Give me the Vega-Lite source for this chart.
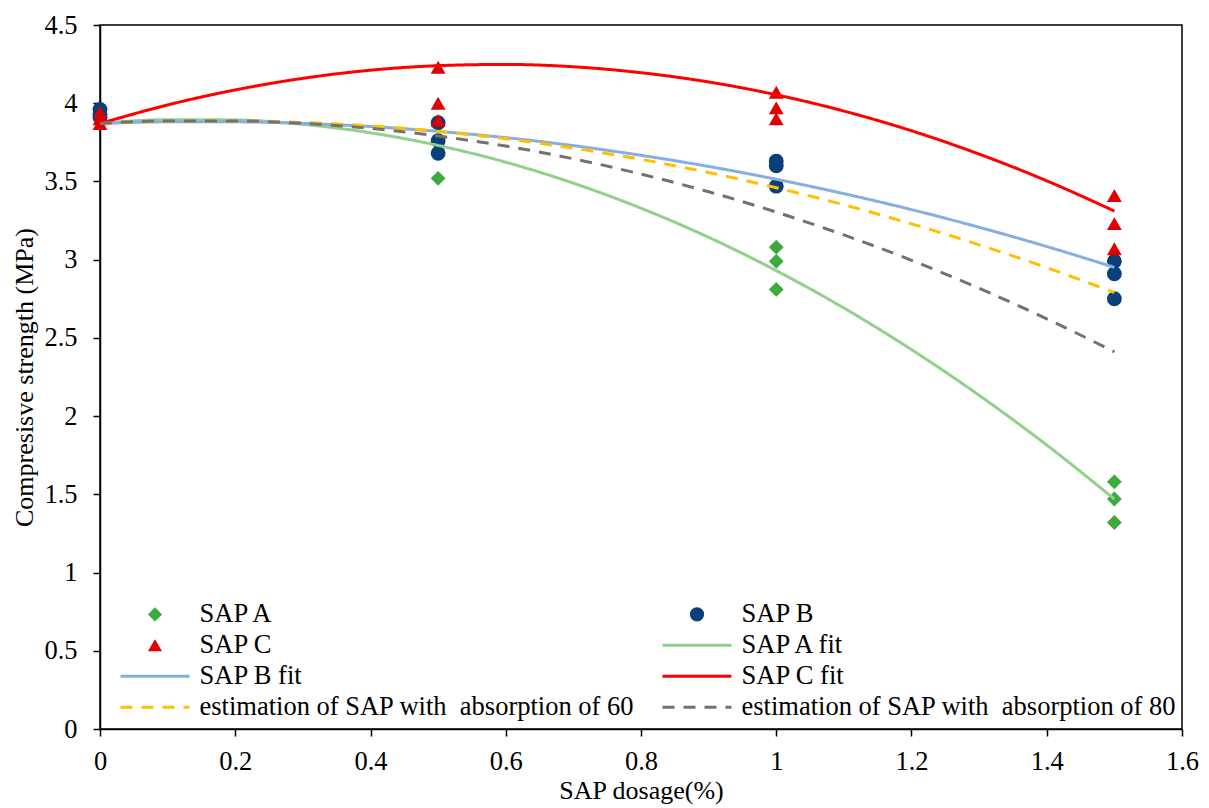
{
  "$schema": "https://vega.github.io/schema/vega-lite/v6.json",
  "width": 1082,
  "height": 704,
  "autosize": {"type": "none"},
  "padding": {"left": 100, "top": 25, "right": 27, "bottom": 79},
  "background": "white",
  "config": {
    "view": {"stroke": "black", "strokeWidth": 1.5},
    "font": "Liberation Serif",
    "axis": {
      "labelFont": "Liberation Serif", "labelFontSize": 26.5, "labelColor": "black",
      "titleFont": "Liberation Serif", "titleFontSize": 26, "titleFontWeight": "normal", "titleColor": "black",
      "domainColor": "black", "domainWidth": 1.5, "tickColor": "black", "tickWidth": 1.5, "tickSize": 7, "grid": false
    }
  },
  "datasets": {
    "pts": [
      {"x": 0, "y": 3.90, "series": "SAP A"},
      {"x": 0, "y": 3.92, "series": "SAP A"},
      {"x": 0.5, "y": 3.52, "series": "SAP A"},
      {"x": 1, "y": 3.08, "series": "SAP A"},
      {"x": 1, "y": 2.99, "series": "SAP A"},
      {"x": 1, "y": 2.81, "series": "SAP A"},
      {"x": 1.5, "y": 1.58, "series": "SAP A"},
      {"x": 1.5, "y": 1.47, "series": "SAP A"},
      {"x": 1.5, "y": 1.32, "series": "SAP A"},
      {"x": 0, "y": 3.96, "series": "SAP B"},
      {"x": 0, "y": 3.93, "series": "SAP B"},
      {"x": 0, "y": 3.91, "series": "SAP B"},
      {"x": 0.5, "y": 3.875, "series": "SAP B"},
      {"x": 0.5, "y": 3.76, "series": "SAP B"},
      {"x": 0.5, "y": 3.68, "series": "SAP B"},
      {"x": 1, "y": 3.63, "series": "SAP B"},
      {"x": 1, "y": 3.60, "series": "SAP B"},
      {"x": 1, "y": 3.47, "series": "SAP B"},
      {"x": 1.5, "y": 2.99, "series": "SAP B"},
      {"x": 1.5, "y": 2.91, "series": "SAP B"},
      {"x": 1.5, "y": 2.75, "series": "SAP B"},
      {"x": 0, "y": 3.94, "series": "SAP C"},
      {"x": 0, "y": 3.90, "series": "SAP C"},
      {"x": 0, "y": 3.87, "series": "SAP C"},
      {"x": 0.5, "y": 4.23, "series": "SAP C"},
      {"x": 0.5, "y": 4.00, "series": "SAP C"},
      {"x": 0.5, "y": 3.89, "series": "SAP C"},
      {"x": 1, "y": 4.07, "series": "SAP C"},
      {"x": 1, "y": 3.97, "series": "SAP C"},
      {"x": 1, "y": 3.90, "series": "SAP C"},
      {"x": 1.5, "y": 3.41, "series": "SAP C"},
      {"x": 1.5, "y": 3.23, "series": "SAP C"},
      {"x": 1.5, "y": 3.07, "series": "SAP C"}
    ],
    "fits": [
      {"x": 0, "y": 3.870, "series": "SAP A fit"},
      {"x": 0.1, "y": 3.895, "series": "SAP A fit"},
      {"x": 0.2, "y": 3.893, "series": "SAP A fit"},
      {"x": 0.3, "y": 3.865, "series": "SAP A fit"},
      {"x": 0.4, "y": 3.811, "series": "SAP A fit"},
      {"x": 0.5, "y": 3.730, "series": "SAP A fit"},
      {"x": 0.6, "y": 3.623, "series": "SAP A fit"},
      {"x": 0.7, "y": 3.489, "series": "SAP A fit"},
      {"x": 0.8, "y": 3.329, "series": "SAP A fit"},
      {"x": 0.9, "y": 3.143, "series": "SAP A fit"},
      {"x": 1.0, "y": 2.930, "series": "SAP A fit"},
      {"x": 1.1, "y": 2.691, "series": "SAP A fit"},
      {"x": 1.2, "y": 2.425, "series": "SAP A fit"},
      {"x": 1.3, "y": 2.133, "series": "SAP A fit"},
      {"x": 1.4, "y": 1.815, "series": "SAP A fit"},
      {"x": 1.5, "y": 1.470, "series": "SAP A fit"},
      {"x": 0, "y": 3.870, "series": "SAP B fit"},
      {"x": 0.1, "y": 3.881, "series": "SAP B fit"},
      {"x": 0.2, "y": 3.881, "series": "SAP B fit"},
      {"x": 0.3, "y": 3.871, "series": "SAP B fit"},
      {"x": 0.4, "y": 3.851, "series": "SAP B fit"},
      {"x": 0.5, "y": 3.820, "series": "SAP B fit"},
      {"x": 0.6, "y": 3.780, "series": "SAP B fit"},
      {"x": 0.7, "y": 3.729, "series": "SAP B fit"},
      {"x": 0.8, "y": 3.667, "series": "SAP B fit"},
      {"x": 0.9, "y": 3.596, "series": "SAP B fit"},
      {"x": 1.0, "y": 3.514, "series": "SAP B fit"},
      {"x": 1.1, "y": 3.422, "series": "SAP B fit"},
      {"x": 1.2, "y": 3.320, "series": "SAP B fit"},
      {"x": 1.3, "y": 3.207, "series": "SAP B fit"},
      {"x": 1.4, "y": 3.084, "series": "SAP B fit"},
      {"x": 1.5, "y": 2.951, "series": "SAP B fit"},
      {"x": 0, "y": 3.870, "series": "SAP C fit"},
      {"x": 0.1, "y": 3.989, "series": "SAP C fit"},
      {"x": 0.2, "y": 4.085, "series": "SAP C fit"},
      {"x": 0.3, "y": 4.159, "series": "SAP C fit"},
      {"x": 0.4, "y": 4.211, "series": "SAP C fit"},
      {"x": 0.5, "y": 4.240, "series": "SAP C fit"},
      {"x": 0.6, "y": 4.248, "series": "SAP C fit"},
      {"x": 0.7, "y": 4.233, "series": "SAP C fit"},
      {"x": 0.8, "y": 4.195, "series": "SAP C fit"},
      {"x": 0.9, "y": 4.136, "series": "SAP C fit"},
      {"x": 1.0, "y": 4.054, "series": "SAP C fit"},
      {"x": 1.1, "y": 3.950, "series": "SAP C fit"},
      {"x": 1.2, "y": 3.824, "series": "SAP C fit"},
      {"x": 1.3, "y": 3.675, "series": "SAP C fit"},
      {"x": 1.4, "y": 3.504, "series": "SAP C fit"},
      {"x": 1.5, "y": 3.311, "series": "SAP C fit"},
      {"x": 0, "y": 3.870, "series": "estimation of SAP with \u00a0absorption of 60"},
      {"x": 0.1, "y": 3.885, "series": "estimation of SAP with \u00a0absorption of 60"},
      {"x": 0.2, "y": 3.887, "series": "estimation of SAP with \u00a0absorption of 60"},
      {"x": 0.3, "y": 3.877, "series": "estimation of SAP with \u00a0absorption of 60"},
      {"x": 0.4, "y": 3.855, "series": "estimation of SAP with \u00a0absorption of 60"},
      {"x": 0.5, "y": 3.820, "series": "estimation of SAP with \u00a0absorption of 60"},
      {"x": 0.6, "y": 3.773, "series": "estimation of SAP with \u00a0absorption of 60"},
      {"x": 0.7, "y": 3.713, "series": "estimation of SAP with \u00a0absorption of 60"},
      {"x": 0.8, "y": 3.641, "series": "estimation of SAP with \u00a0absorption of 60"},
      {"x": 0.9, "y": 3.557, "series": "estimation of SAP with \u00a0absorption of 60"},
      {"x": 1.0, "y": 3.460, "series": "estimation of SAP with \u00a0absorption of 60"},
      {"x": 1.1, "y": 3.351, "series": "estimation of SAP with \u00a0absorption of 60"},
      {"x": 1.2, "y": 3.229, "series": "estimation of SAP with \u00a0absorption of 60"},
      {"x": 1.3, "y": 3.095, "series": "estimation of SAP with \u00a0absorption of 60"},
      {"x": 1.4, "y": 2.949, "series": "estimation of SAP with \u00a0absorption of 60"},
      {"x": 1.5, "y": 2.790, "series": "estimation of SAP with \u00a0absorption of 60"},
      {"x": 0, "y": 3.870, "series": "estimation of SAP with \u00a0absorption of 80"},
      {"x": 0.1, "y": 3.887, "series": "estimation of SAP with \u00a0absorption of 80"},
      {"x": 0.2, "y": 3.887, "series": "estimation of SAP with \u00a0absorption of 80"},
      {"x": 0.3, "y": 3.871, "series": "estimation of SAP with \u00a0absorption of 80"},
      {"x": 0.4, "y": 3.839, "series": "estimation of SAP with \u00a0absorption of 80"},
      {"x": 0.5, "y": 3.790, "series": "estimation of SAP with \u00a0absorption of 80"},
      {"x": 0.6, "y": 3.726, "series": "estimation of SAP with \u00a0absorption of 80"},
      {"x": 0.7, "y": 3.645, "series": "estimation of SAP with \u00a0absorption of 80"},
      {"x": 0.8, "y": 3.547, "series": "estimation of SAP with \u00a0absorption of 80"},
      {"x": 0.9, "y": 3.434, "series": "estimation of SAP with \u00a0absorption of 80"},
      {"x": 1.0, "y": 3.304, "series": "estimation of SAP with \u00a0absorption of 80"},
      {"x": 1.1, "y": 3.158, "series": "estimation of SAP with \u00a0absorption of 80"},
      {"x": 1.2, "y": 2.996, "series": "estimation of SAP with \u00a0absorption of 80"},
      {"x": 1.3, "y": 2.817, "series": "estimation of SAP with \u00a0absorption of 80"},
      {"x": 1.4, "y": 2.622, "series": "estimation of SAP with \u00a0absorption of 80"},
      {"x": 1.5, "y": 2.411, "series": "estimation of SAP with \u00a0absorption of 80"}
    ]
  },
  "encoding": {
    "x": {
      "field": "x", "type": "quantitative",
      "scale": {"domain": [0, 1.6], "nice": false},
      "axis": {"title": "SAP dosage(%)", "values": [0, 0.2, 0.4, 0.6, 0.8, 1, 1.2, 1.4, 1.6], "format": "~g", "labelFlush": false, "labelPadding": 12, "titlePadding": 3}
    },
    "y": {
      "field": "y", "type": "quantitative",
      "scale": {"domain": [0, 4.5], "nice": false},
      "axis": {"title": "Compresisve strength (MPa)", "values": [0, 0.5, 1, 1.5, 2, 2.5, 3, 3.5, 4, 4.5], "format": "~g", "labelPadding": 16, "titlePadding": 6}
    },
    "color": {
      "field": "series", "type": "nominal",
      "scale": {
        "domain": ["SAP A", "SAP C", "SAP B fit", "estimation of SAP with \u00a0absorption of 60", "SAP B", "SAP A fit", "SAP C fit", "estimation of SAP with \u00a0absorption of 80"],
        "range": ["#3DAA3D", "#E00000", "#86AEE0", "#FFC000", "#0B3F7A", "#92D18A", "#FF0000", "#767171"]
      },
      "legend": {
        "orient": "none", "legendX": 20, "legendY": 576, "columns": 2, "title": null,
        "columnPadding": 21, "rowPadding": 4, "padding": 0,
        "labelFont": "Liberation Serif", "labelFontSize": 26.5, "labelColor": "black", "labelLimit": 700, "labelOffset": 53,
        "symbolSize": 225, "symbolStrokeWidth": 3, "symbolOpacity": 1,
        "encode": {
          "symbols": {
            "update": {
              "x": {"value": 35},
              "shape": {"scale": "shape", "field": "value"},
              "strokeDash": {"scale": "strokeDash", "field": "value"},
              "fill": {"scale": "color", "field": "value"},
              "stroke": {"scale": "color", "field": "value"},
              "size": {"signal": "indexof(['SAP A','SAP B','SAP C'], datum.value) >= 0 ? 200 : 4761"},
              "strokeWidth": {"signal": "indexof(['SAP A','SAP B','SAP C'], datum.value) >= 0 ? 0 : 3"},
              "opacity": {"value": 1}
            }
          }
        }
      }
    }
  },
  "layer": [
    {
      "data": {"name": "pts"},
      "mark": {"type": "point", "filled": true, "opacity": 1, "size": 220},
      "encoding": {
        "shape": {
          "field": "series", "type": "nominal", "legend": null,
          "scale": {
            "domain": ["SAP A", "SAP C", "SAP B fit", "estimation of SAP with \u00a0absorption of 60", "SAP B", "SAP A fit", "SAP C fit", "estimation of SAP with \u00a0absorption of 80"],
            "range": ["diamond", "triangle-up", "stroke", "stroke", "circle", "stroke", "stroke", "stroke"]
          }
        }
      }
    },
    {
      "data": {"name": "fits"},
      "mark": {"type": "line", "strokeWidth": 3, "interpolate": "monotone"},
      "encoding": {
        "strokeDash": {
          "field": "series", "type": "nominal", "legend": null,
          "scale": {
            "domain": ["SAP A", "SAP C", "SAP B fit", "estimation of SAP with \u00a0absorption of 60", "SAP B", "SAP A fit", "SAP C fit", "estimation of SAP with \u00a0absorption of 80"],
            "range": [[1, 0], [1, 0], [1, 0], [12, 9], [1, 0], [1, 0], [1, 0], [12, 9]]
          }
        }
      }
    }
  ]
}
